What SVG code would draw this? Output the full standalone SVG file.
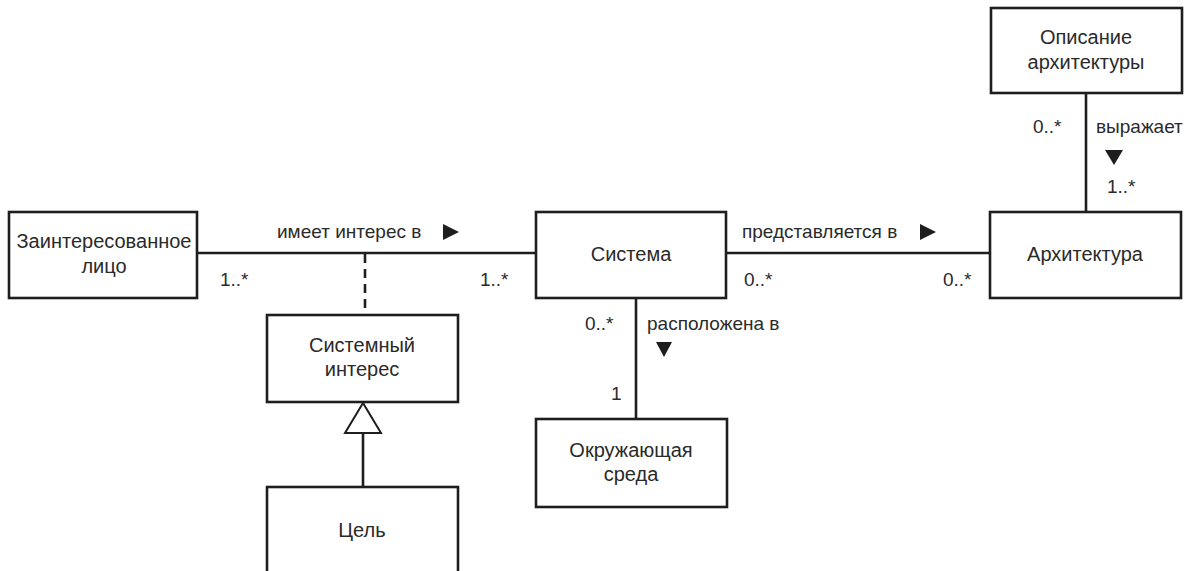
<svg xmlns="http://www.w3.org/2000/svg" width="1193" height="571" viewBox="0 0 1193 571">
<style>
.box{fill:#fff;stroke:#1e1e1e;stroke-width:2.6}
.ln{fill:none;stroke:#1e1e1e;stroke-width:2.6}
.dash{stroke-dasharray:9,6}
.t{font-family:"Liberation Sans",Arial,sans-serif;font-size:20px;fill:#2a2a2a;text-anchor:middle}
.l{font-family:"Liberation Sans",Arial,sans-serif;font-size:19px;fill:#2a2a2a}
.tri{fill:#1e1e1e}
</style>
<rect width="1193" height="571" fill="#fff"/>
<g id="connectors">
<line class="ln" x1="197" y1="253" x2="536" y2="253"/>
<line class="ln dash" x1="365" y1="254" x2="365" y2="315"/>
<line class="ln" x1="726" y1="253" x2="990" y2="253"/>
<line class="ln" x1="1086" y1="93" x2="1086" y2="212"/>
<line class="ln" x1="636" y1="298" x2="636" y2="419"/>
<line class="ln" x1="363" y1="433" x2="363" y2="487"/>
<polygon points="363,403 345,433 381,433" fill="#fff" stroke="#1e1e1e" stroke-width="2"/>
<text class="l" x="277" y="238">имеет интерес в</text>
<polygon class="tri" points="443,224 459,232 443,240"/>
<text class="l" x="220" y="286">1..*</text>
<text class="l" x="480" y="286">1..*</text>
<text class="l" x="742" y="238">представляется в</text>
<polygon class="tri" points="920,224 936,232 920,240"/>
<text class="l" x="744" y="286">0..*</text>
<text class="l" x="943" y="286">0..*</text>
<text class="l" x="1033" y="133">0..*</text>
<text class="l" x="1096" y="133">выражает</text>
<polygon class="tri" points="1105,150 1123,150 1114,165"/>
<text class="l" x="1107" y="193">1..*</text>
<text class="l" x="585" y="330">0..*</text>
<text class="l" x="647" y="330">расположена в</text>
<polygon class="tri" points="656,342 672,342 664,357"/>
<text class="l" x="611" y="400">1</text>
</g>
<g id="stakeholder">
<rect class="box" x="9" y="212" width="188" height="86"/>
<text class="t" x="104" y="248">Заинтересованное</text>
<text class="t" x="104" y="273">лицо</text>
</g>
<g id="system">
<rect class="box" x="536" y="212" width="190" height="86"/>
<text class="t" x="631" y="261">Система</text>
</g>
<g id="architecture">
<rect class="box" x="990" y="212" width="191" height="86"/>
<text class="t" x="1085" y="261">Архитектура</text>
</g>
<g id="archdesc">
<rect class="box" x="991" y="8" width="191" height="85"/>
<text class="t" x="1086" y="44">Описание</text>
<text class="t" x="1086" y="69">архитектуры</text>
</g>
<g id="concern">
<rect class="box" x="267" y="315" width="191" height="87"/>
<text class="t" x="362" y="352">Системный</text>
<text class="t" x="362" y="376">интерес</text>
</g>
<g id="purpose">
<rect class="box" x="267" y="487" width="191" height="100"/>
<text class="t" x="362" y="537">Цель</text>
</g>
<g id="environment">
<rect class="box" x="536" y="419" width="191" height="88"/>
<text class="t" x="631" y="457">Окружающая</text>
<text class="t" x="631" y="481">среда</text>
</g>
</svg>
